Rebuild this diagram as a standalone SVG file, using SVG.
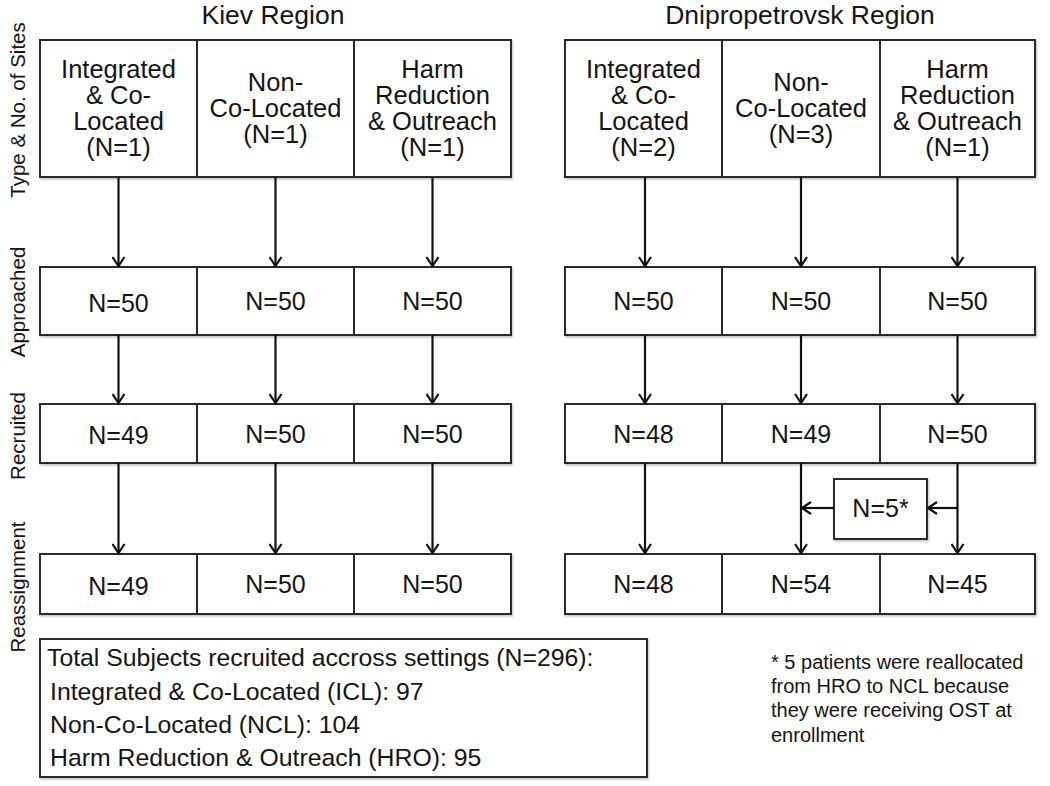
<svg xmlns="http://www.w3.org/2000/svg" width="1050" height="786" viewBox="0 0 1050 786">
<style>
text{font-family:"Liberation Sans",Arial,Helvetica,sans-serif;fill:#141414}
.box{fill:#fff;stroke:#2a2a2a;stroke-width:2}
.div{stroke:#2a2a2a;stroke-width:2}
.t{font-size:25.5px;text-anchor:middle}
.n{font-size:25px;text-anchor:middle}
.title{font-size:26.5px;text-anchor:middle}
.side{font-size:20.5px;text-anchor:middle}
.tot{font-size:24.8px}
.foot{font-size:20px}
.con{stroke:#111;stroke-width:2.2;fill:none;marker-end:url(#ah)}
</style>
<defs>
<marker id="ah" viewBox="0 0 12 14" refX="10" refY="7" markerWidth="12" markerHeight="14" markerUnits="userSpaceOnUse" orient="auto">
<path d="M1,1 L10,7 L1,13" fill="none" stroke="#111" stroke-width="2.2"/>
</marker>
<filter id="sh" x="-5%" y="-5%" width="110%" height="115%">
<feDropShadow dx="1" dy="1.5" stdDeviation="1" flood-color="#000" flood-opacity="0.25"/>
</filter>
</defs>
<rect width="1050" height="786" fill="#fff"/>

<g id="titles">
<text class="title" x="273" y="24">Kiev Region</text>
<text class="title" x="800" y="24">Dnipropetrovsk Region</text>
</g>

<g id="side-labels">
<text class="side" transform="translate(25,110) rotate(-90)">Type &amp; No. of Sites</text>
<text class="side" transform="translate(25,302) rotate(-90)">Approached</text>
<text class="side" transform="translate(25,436) rotate(-90)">Recruited</text>
<text class="side" transform="translate(25,587) rotate(-90)">Reassignment</text>
</g>

<g id="kiev-types" filter="url(#sh)">
<rect class="box" x="40" y="40" width="471" height="137"/>
<line class="div" x1="197" y1="40" x2="197" y2="177"/>
<line class="div" x1="354" y1="40" x2="354" y2="177"/>
</g>
<g id="kiev-types-text">
<text class="t" x="118.5" y="78">Integrated</text>
<text class="t" x="118.5" y="104">&amp; Co-</text>
<text class="t" x="118.5" y="130">Located</text>
<text class="t" x="118.5" y="156">(N=1)</text>
<text class="t" x="275.5" y="91">Non-</text>
<text class="t" x="275.5" y="117">Co-Located</text>
<text class="t" x="275.5" y="143">(N=1)</text>
<text class="t" x="432.5" y="78">Harm</text>
<text class="t" x="432.5" y="104">Reduction</text>
<text class="t" x="432.5" y="130">&amp; Outreach</text>
<text class="t" x="432.5" y="156">(N=1)</text>
</g>

<g id="dnipro-types" filter="url(#sh)">
<rect class="box" x="565" y="40" width="470" height="137"/>
<line class="div" x1="722" y1="40" x2="722" y2="177"/>
<line class="div" x1="880" y1="40" x2="880" y2="177"/>
</g>
<g id="dnipro-types-text">
<text class="t" x="643.5" y="78">Integrated</text>
<text class="t" x="643.5" y="104">&amp; Co-</text>
<text class="t" x="643.5" y="130">Located</text>
<text class="t" x="643.5" y="156">(N=2)</text>
<text class="t" x="801" y="91">Non-</text>
<text class="t" x="801" y="117">Co-Located</text>
<text class="t" x="801" y="143">(N=3)</text>
<text class="t" x="957.5" y="78">Harm</text>
<text class="t" x="957.5" y="104">Reduction</text>
<text class="t" x="957.5" y="130">&amp; Outreach</text>
<text class="t" x="957.5" y="156">(N=1)</text>
</g>

<g id="kiev-approached">
<rect class="box" x="40" y="267" width="471" height="68" filter="url(#sh)"/>
<line class="div" x1="197" y1="267" x2="197" y2="335"/>
<line class="div" x1="354" y1="267" x2="354" y2="335"/>
<text class="n" x="118.5" y="312">N=50</text>
<text class="n" x="275.5" y="310">N=50</text>
<text class="n" x="432.5" y="310">N=50</text>
</g>
<g id="dnipro-approached">
<rect class="box" x="565" y="267" width="470" height="68" filter="url(#sh)"/>
<line class="div" x1="722" y1="267" x2="722" y2="335"/>
<line class="div" x1="880" y1="267" x2="880" y2="335"/>
<text class="n" x="643.5" y="310">N=50</text>
<text class="n" x="801" y="310">N=50</text>
<text class="n" x="957.5" y="310">N=50</text>
</g>

<g id="kiev-recruited">
<rect class="box" x="40" y="404" width="471" height="59" filter="url(#sh)"/>
<line class="div" x1="197" y1="404" x2="197" y2="463"/>
<line class="div" x1="354" y1="404" x2="354" y2="463"/>
<text class="n" x="118.5" y="444">N=49</text>
<text class="n" x="275.5" y="443">N=50</text>
<text class="n" x="432.5" y="443">N=50</text>
</g>
<g id="dnipro-recruited">
<rect class="box" x="565" y="404" width="470" height="59" filter="url(#sh)"/>
<line class="div" x1="722" y1="404" x2="722" y2="463"/>
<line class="div" x1="880" y1="404" x2="880" y2="463"/>
<text class="n" x="643.5" y="443">N=48</text>
<text class="n" x="801" y="443">N=49</text>
<text class="n" x="957.5" y="443">N=50</text>
</g>

<g id="kiev-reassignment">
<rect class="box" x="40" y="554" width="471" height="60" filter="url(#sh)"/>
<line class="div" x1="197" y1="554" x2="197" y2="614"/>
<line class="div" x1="354" y1="554" x2="354" y2="614"/>
<text class="n" x="118.5" y="595">N=49</text>
<text class="n" x="275.5" y="593">N=50</text>
<text class="n" x="432.5" y="593">N=50</text>
</g>
<g id="dnipro-reassignment">
<rect class="box" x="565" y="554" width="470" height="60" filter="url(#sh)"/>
<line class="div" x1="722" y1="554" x2="722" y2="614"/>
<line class="div" x1="880" y1="554" x2="880" y2="614"/>
<text class="n" x="643.5" y="593">N=48</text>
<text class="n" x="801" y="593">N=54</text>
<text class="n" x="957.5" y="593">N=45</text>
</g>

<g id="realloc">
<rect class="box" x="834" y="479" width="93" height="60" filter="url(#sh)"/>
<text class="n" x="880.5" y="517">N=5*</text>
</g>

<g id="connectors">
<line class="con" x1="118.5" y1="177" x2="118.5" y2="266"/>
<line class="con" x1="275.5" y1="177" x2="275.5" y2="266"/>
<line class="con" x1="432.5" y1="177" x2="432.5" y2="266"/>
<line class="con" x1="645" y1="177" x2="645" y2="266"/>
<line class="con" x1="801" y1="177" x2="801" y2="266"/>
<line class="con" x1="957.5" y1="177" x2="957.5" y2="266"/>
<line class="con" x1="118.5" y1="335" x2="118.5" y2="403"/>
<line class="con" x1="275.5" y1="335" x2="275.5" y2="403"/>
<line class="con" x1="432.5" y1="335" x2="432.5" y2="403"/>
<line class="con" x1="645" y1="335" x2="645" y2="403"/>
<line class="con" x1="801" y1="335" x2="801" y2="403"/>
<line class="con" x1="957.5" y1="335" x2="957.5" y2="403"/>
<line class="con" x1="118.5" y1="463" x2="118.5" y2="553"/>
<line class="con" x1="275.5" y1="463" x2="275.5" y2="553"/>
<line class="con" x1="432.5" y1="463" x2="432.5" y2="553"/>
<line class="con" x1="645" y1="463" x2="645" y2="553"/>
<line class="con" x1="801" y1="463" x2="801" y2="553"/>
<line class="con" x1="957.5" y1="463" x2="957.5" y2="553"/>
<line class="con" x1="957.5" y1="508" x2="928" y2="508"/>
<line class="con" x1="834" y1="508" x2="802" y2="508"/>
</g>

<g id="totals">
<rect class="box" x="40" y="639" width="607" height="138" filter="url(#sh)"/>
<text class="tot" x="47" y="666">Total Subjects recruited accross settings (N=296):</text>
<text class="tot" x="50" y="700">Integrated &amp; Co-Located (ICL): 97</text>
<text class="tot" x="50" y="733">Non-Co-Located (NCL): 104</text>
<text class="tot" x="50" y="766">Harm Reduction &amp; Outreach (HRO): 95</text>
</g>

<g id="footnote">
<text class="foot" x="771" y="669">* 5 patients were reallocated</text>
<text class="foot" x="771" y="693">from HRO to NCL because</text>
<text class="foot" x="771" y="717">they were receiving OST at</text>
<text class="foot" x="771" y="742">enrollment</text>
</g>
</svg>
